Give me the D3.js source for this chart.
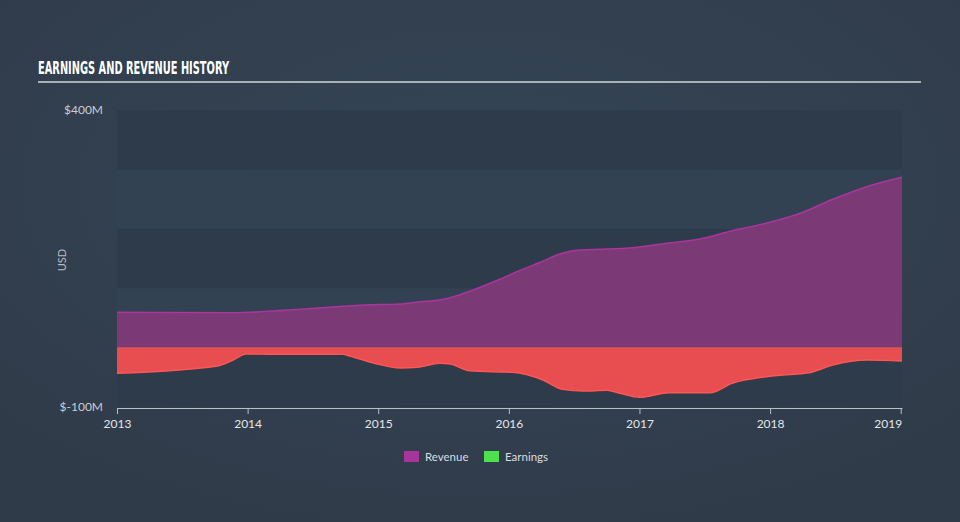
<!DOCTYPE html>
<html><head><meta charset="utf-8">
<script src="https://cdn.jsdelivr.net/npm/d3@7"></script>
<style>html,body{margin:0;padding:0;background:#333f4e;overflow:hidden}</style>
</head><body>
<svg id="chart" width="960" height="522"></svg>
<script>
// Data (fractional year, value in $M)
const revenueDates = [2013.0, 2013.89, 2014.15, 2014.40, 2014.65, 2014.91, 2015.17, 2015.32, 2015.47, 2015.62, 2015.78, 2015.93, 2016.08, 2016.24, 2016.39, 2016.54, 2016.70, 2016.95, 2017.21, 2017.46, 2017.71, 2017.97, 2018.23, 2018.48, 2018.74, 2019.01];
const revenueValues = [59.4, 58.8, 61.1, 64.5, 68.4, 71.7, 73.4, 77.3, 80.1, 88.6, 101.5, 115, 129.5, 143.6, 157.6, 164.3, 165.5, 168.2, 175.6, 182.8, 196.8, 209.3, 226.1, 249.7, 270.9, 286.7];
const earningsDates = [2013.0, 2013.77, 2013.89, 2013.99, 2014.40, 2014.73, 2014.78, 2014.97, 2015.17, 2015.30, 2015.47, 2015.55, 2015.70, 2015.93, 2016.03, 2016.26, 2016.41, 2016.57, 2016.75, 2016.85, 2017.00, 2017.23, 2017.54, 2017.71, 2017.97, 2018.23, 2018.30, 2018.48, 2018.74, 2019.01];
const earningsValues = [-43.3, -31, -20.9, -10.8, -11.3, -11.3, -14.1, -26.4, -34.3, -33.2, -26.4, -27.6, -38.9, -41, -41.6, -54.5, -70.2, -73.1, -71.9, -76.9, -83.7, -75.9, -75.9, -60.1, -49, -43.9, -42.3, -29.3, -20.9, -22.6];
const xTicks = [2013, 2014, 2015, 2016, 2017, 2018, 2019];
const yTicks = [400, -100];
const yBands = [-100, 0, 100, 200, 300, 400];
const legendLabels = ["Revenue", "Earnings"];

const svg = d3.select("#chart");
const defs = svg.append("defs");
const rg = defs.append("radialGradient").attr("id","bg").attr("cx","0.5").attr("cy","0.35").attr("r","0.7");
rg.append("stop").attr("offset","0").attr("stop-color","#354556");
rg.append("stop").attr("offset","1").attr("stop-color","#303b49");
svg.append("rect").attr("width",960).attr("height",522).attr("fill","url(#bg)");

const x = d3.scaleLinear().domain([2013, 2019.01]).range([117, 902]);
const y = d3.scaleLinear().domain([-100, 400]).range([407, 110]);

// bands
for (let i = 0; i < yBands.length - 1; i++) {
  svg.append("rect")
    .attr("x", x.range()[0]).attr("width", x.range()[1] - x.range()[0])
    .attr("y", y(yBands[i+1])).attr("height", y(yBands[i]) - y(yBands[i+1]))
    .attr("fill", i % 2 === 0 ? "#2e3b4a" : "#334252");
}

// title
svg.append("text").attr("x", 38).attr("y", 74)
  .attr("font-family", "'Liberation Sans Narrow','DejaVu Sans Condensed',sans-serif")
  .attr("font-weight", "bold").attr("font-size", 17).attr("fill", "#ffffff")
  .attr("textLength", 191).attr("lengthAdjust", "spacingAndGlyphs")
  .text("EARNINGS AND REVENUE HISTORY");
svg.append("line").attr("x1", 38).attr("x2", 921).attr("y1", 82).attr("y2", 82)
  .attr("stroke", "#a9afb7").attr("stroke-width", 2);

const rev = revenueDates.map((d, i) => ({x: d, v: revenueValues[i]}));
const ear = earningsDates.map((d, i) => ({x: d, v: earningsValues[i]}));
const curve = d3.curveMonotoneX;

const area = d3.area().x(d => x(d.x)).y0(y(0)).y1(d => y(d.v)).curve(curve);
const line = d3.line().x(d => x(d.x)).y(d => y(d.v)).curve(curve);

svg.append("path").datum(rev).attr("d", area).attr("fill", "#7b3a76");
svg.append("path").datum(rev).attr("d", line).attr("fill", "none").attr("stroke", "#a8369d").attr("stroke-width", 1.5);
svg.append("path").datum(ear).attr("d", area).attr("fill", "#e84e50");
svg.append("path").datum(ear).attr("d", line).attr("fill", "none").attr("stroke", "#ff5555").attr("stroke-width", 1.5);
svg.append("line").attr("x1", x.range()[0]).attr("x2", x.range()[1]).attr("y1", y(0)).attr("y2", y(0))
  .attr("stroke", "#b8545e").attr("stroke-width", 1);

// x axis
const xAxis = d3.axisBottom(x).tickValues(xTicks).tickFormat(d3.format("d")).tickSize(6).tickSizeOuter(0);
const gx = svg.append("g").attr("transform", `translate(0,${y(-100) + 1})`).call(xAxis);
gx.select(".domain").attr("stroke", "#b9c0c9");
gx.selectAll(".tick line").attr("stroke", "#b9c0c9");
gx.selectAll(".tick text").attr("fill", "#e3e6ea").attr("font-size", 12)
  .attr("font-family", "Lato, 'Open Sans', sans-serif").attr("dy", "0.9em");
gx.selectAll(".tick text").filter(d => d === 2019).attr("text-anchor", "end").attr("dx", 1);

// y labels
svg.selectAll(".ylab").data(yTicks).enter().append("text").attr("class", "ylab")
  .attr("x", 103).attr("y", d => y(d) + 4).attr("text-anchor", "end")
  .attr("fill", "#c9ced5").attr("font-size", 12).attr("font-family", "Lato, 'Open Sans', sans-serif")
  .text(d => d < 0 ? "$-" + Math.abs(d) + "M" : "$" + d + "M");

svg.append("text").attr("transform", "translate(66,260) rotate(-90)").attr("text-anchor", "middle")
  .attr("fill", "#b6bcc4").attr("font-size", 11).attr("font-family", "Lato, 'Open Sans', sans-serif").text("USD");

// legend
const legColors = ["#a8359c", "#4ee04e"];
const legX = [404, 484];
legendLabels.forEach((l, i) => {
  svg.append("rect").attr("x", legX[i]).attr("y", 451).attr("width", 15).attr("height", 11).attr("fill", legColors[i]);
  svg.append("text").attr("x", legX[i] + 21).attr("y", 460.5).attr("fill", "#d9dce0")
    .attr("font-size", 11.5).attr("font-family", "Lato, 'Open Sans', sans-serif").text(l);
});
</script>
</body></html>
